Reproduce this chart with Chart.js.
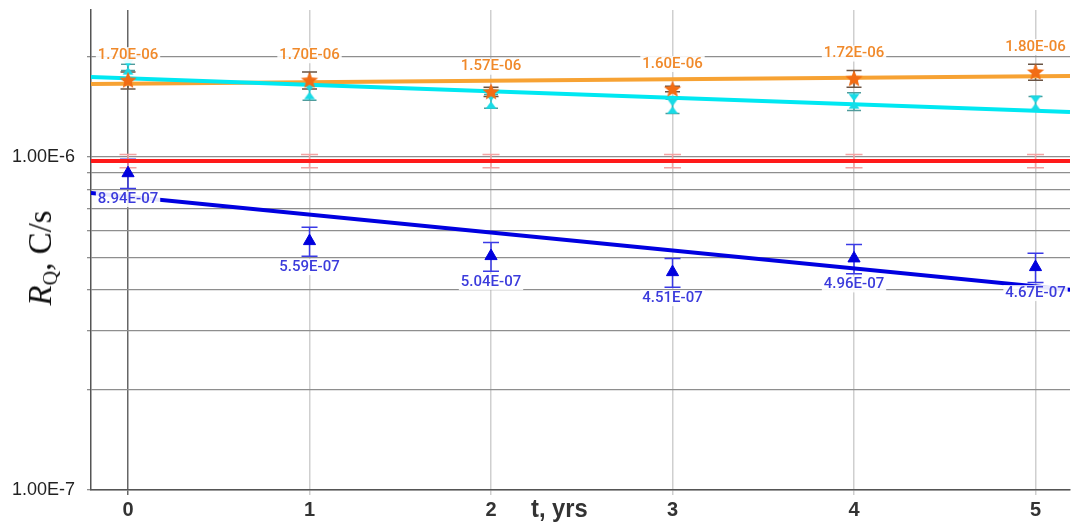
<!DOCTYPE html>
<html>
<head>
<meta charset="utf-8">
<script src="https://cdn.jsdelivr.net/npm/chart.js@4.4.0/dist/chart.umd.min.js"></script>
<style>
  html, body { margin: 0; padding: 0; background: #fff; overflow: hidden; }
  #wrap { position: relative; width: 1073px; height: 523px; overflow: hidden; }
  /* a bit wider than the page: Chart.js keeps ~7px spare on the right */
  #box { position: relative; width: 1080px; height: 523px; }
  #rqChart { display: block; }
  #ytitle {
    position: absolute; left: 42px; top: 258px;
    transform: translate(-50%, -50%) rotate(-90deg);
    font-family: 'Liberation Serif', 'Times New Roman', serif;
    font-size: 33px; white-space: nowrap; color: #111;
  }
  #ytitle sub { font-size: 20px; vertical-align: -6px; }
  #xtitle {
    position: absolute; left: 531px; top: 494px;
    font: bold 25px 'Liberation Sans Narrow', 'Arial Narrow', 'Liberation Sans', sans-serif;
    color: #333; white-space: nowrap;
    transform: scaleX(0.95); transform-origin: left top;
  }
</style>
</head>
<body>
<div id="wrap">
  <div id="box"><canvas id="rqChart"></canvas></div>
  <div id="ytitle"><i>R</i><sub>Q</sub>, C/s</div>
  <div id="xtitle">t, yrs</div>
</div>
<script>
// ---- data ----
const years = [0, 1, 2, 3, 4, 5];

const orangeValues = [1.70e-6, 1.70e-6, 1.57e-6, 1.60e-6, 1.72e-6, 1.80e-6];
const orangeErrors = [0.10e-6, 0.10e-6, 0.05e-6, 0.03e-6, 0.10e-6, 0.10e-6];

const cyanValues = [1.86e-6, 1.57e-6, 1.47e-6, 1.42e-6, 1.47e-6, 1.45e-6];
const cyanErrors = [0.04e-6, 0.09e-6, 0.07e-6, 0.07e-6, 0.09e-6, 0.07e-6];

const redValues = [9.73e-7, 9.73e-7, 9.73e-7, 9.73e-7, 9.73e-7, 9.73e-7];
const redErrors = [4.5e-8, 4.5e-8, 4.5e-8, 4.5e-8, 4.5e-8, 4.5e-8];

const blueValues = [8.94e-7, 5.59e-7, 5.04e-7, 4.51e-7, 4.96e-7, 4.67e-7];
const blueErrors = [9.0e-8, 5.6e-8, 5.0e-8, 4.5e-8, 5.0e-8, 4.7e-8];

// trend lines, end points at the plot edges
const trendX = [-0.204, 5.19];
const orangeTrend = [1.656e-6, 1.75e-6];
const cyanTrend = [1.74e-6, 1.365e-6];
const redTrend = [9.73e-7, 9.73e-7];
const blueTrend = [7.8e-7, 3.99e-7];

const yGridValues = [1e-7, 2e-7, 3e-7, 4e-7, 5e-7, 6e-7, 7e-7, 8e-7, 9e-7, 1e-6, 2e-6];
const yLabelValues = [1e-7, 1e-6];

function pts(xs, ys) { return xs.map((x, i) => ({ x: x, y: ys[i] })); }

function sciLabel(v) {
  let exp = Math.floor(Math.log10(v) + 1e-9);
  let m = v / Math.pow(10, exp);
  let e = Math.abs(exp);
  return m.toFixed(2) + 'E' + (exp < 0 ? '-' : '+') + (e < 10 ? '0' + e : e);
}
function tickLabel(v) {
  let exp = Math.round(Math.log10(v));
  return (v / Math.pow(10, exp)).toFixed(2) + 'E' + exp;
}

// marker pictures
function makeStar(color) {
  const c = document.createElement('canvas');
  c.width = 20; c.height = 20;
  const g = c.getContext('2d');
  g.fillStyle = color;
  g.beginPath();
  for (let i = 0; i < 10; i++) {
    const r = i % 2 === 0 ? 9 : 4;
    const a = -Math.PI / 2 + i * Math.PI / 5;
    const px = 10 + r * Math.cos(a), py = 10.5 + r * Math.sin(a);
    if (i === 0) g.moveTo(px, py); else g.lineTo(px, py);
  }
  g.closePath();
  g.fill();
  return c;
}
function makeHourglass(color) {
  const c = document.createElement('canvas');
  c.width = 12; c.height = 16;
  const g = c.getContext('2d');
  g.fillStyle = color;
  g.beginPath();
  g.moveTo(0.5, 0.5); g.lineTo(11.5, 0.5); g.lineTo(6, 8); g.closePath();
  g.moveTo(6, 8); g.lineTo(11.5, 15.5); g.lineTo(0.5, 15.5); g.closePath();
  g.fill();
  return c;
}

const errorBars = {
  id: 'errorBars',
  beforeDatasetsDraw(chart) {
    const ctx = chart.ctx;
    const yScale = chart.scales.y;
    chart.data.datasets.forEach((ds, i) => {
      if (!ds.errors) return;
      const meta = chart.getDatasetMeta(i);
      ctx.save();
      ctx.strokeStyle = ds.errorColor;
      ctx.lineWidth = 1.5;
      meta.data.forEach((pt, j) => {
        const v = ds.data[j].y, e = ds.errors[j];
        const top = yScale.getPixelForValue(v + e);
        const bot = yScale.getPixelForValue(v - e);
        const w = ds.capWidth / 2;
        ctx.beginPath();
        ctx.moveTo(pt.x, top); ctx.lineTo(pt.x, bot);
        ctx.moveTo(pt.x - w, top); ctx.lineTo(pt.x + w, top);
        ctx.moveTo(pt.x - w, bot); ctx.lineTo(pt.x + w, bot);
        ctx.stroke();
      });
      ctx.restore();
    });
  }
};

const valueLabels = {
  id: 'valueLabels',
  afterDatasetsDraw(chart) {
    const ctx = chart.ctx;
    chart.data.datasets.forEach((ds, i) => {
      if (!ds.labelOffset) return;
      const meta = chart.getDatasetMeta(i);
      ctx.save();
      ctx.font = '500 15px Roboto, "Liberation Sans", sans-serif';
      ctx.textAlign = 'center';
      ctx.textBaseline = 'middle';
      meta.data.forEach((pt, j) => {
        const txt = sciLabel(ds.data[j].y);
        const w = ctx.measureText(txt).width;
        const cy = pt.y + ds.labelOffset;
        ctx.fillStyle = 'rgba(255,255,255,0.9)';
        ctx.fillRect(pt.x - w / 2 - 2, cy - 8, w + 4, 16);
        ctx.fillStyle = ds.labelColor;
        ctx.fillText(txt, pt.x, cy);
      });
      ctx.restore();
    });
  }
};

const ctxRq = document.getElementById('rqChart').getContext('2d');
new Chart(ctxRq, {
  type: 'scatter',
  data: {
    datasets: [
      {
        label: 'blue', data: pts(years, blueValues),
        pointStyle: 'triangle', pointRadius: 7, backgroundColor: '#0000dd', borderColor: '#0000dd', borderWidth: 1,
        errors: blueErrors, errorColor: '#3a3ae6', capWidth: 16,
        labelOffset: 26, labelColor: '#3b3bdc'
      },
      {
        label: 'orange', data: pts(years, orangeValues),
        pointStyle: makeStar('#f26c14'), pointRadius: 9,
        errors: orangeErrors, errorColor: '#6a5444', capWidth: 15,
        labelOffset: -25, labelColor: '#f0892a'
      },
      {
        label: 'cyan', data: pts(years, cyanValues),
        pointStyle: makeHourglass('#19dbe6'), pointRadius: 8,
        errors: cyanErrors, errorColor: '#4f9c9c', capWidth: 14
      },
      {
        label: 'red', data: pts(years, redValues),
        pointRadius: 0,
        errors: redErrors, errorColor: '#f3a3a3', capWidth: 17
      },
      {
        label: 'blue trend', data: pts(trendX, blueTrend), showLine: true,
        borderColor: '#0000e0', borderWidth: 4, pointStyle: 'rect', pointRadius: 2,
        backgroundColor: '#0000e0', pointBorderWidth: 0
      },
      {
        label: 'red trend', data: pts(trendX, redTrend), showLine: true,
        borderColor: '#ff1a1a', borderWidth: 4, pointRadius: 0
      },
      {
        label: 'cyan trend', data: pts(trendX, cyanTrend), showLine: true,
        borderColor: '#00e8f2', borderWidth: 4, pointRadius: 0
      },
      {
        label: 'orange trend', data: pts(trendX, orangeTrend), showLine: true,
        borderColor: '#f7a233', borderWidth: 4, pointRadius: 0
      }
    ]
  },
  options: {
    responsive: true,
    maintainAspectRatio: false,
    animation: false,
    layout: { padding: { left: 0, top: 10, right: 3, bottom: 0 } },
    plugins: { legend: { display: false }, tooltip: { enabled: false } },
    scales: {
      x: {
        type: 'linear', min: trendX[0], max: trendX[1],
        afterBuildTicks: s => { s.ticks = years.map(v => ({ value: v })); },
        afterFit: s => { s.height = 33; s.paddingLeft = 0; s.paddingRight = 0; },
        grid: {
          color: c => (c.tick && c.tick.value === 0) ? '#666' : '#cfcfcf',
          lineWidth: 1.5, tickLength: 5
        },
        border: { color: '#555', width: 1.5 },
        ticks: {
          color: '#333', padding: 3,
          font: { family: "'Liberation Sans Narrow', 'Arial Narrow', 'Liberation Sans', sans-serif", size: 20, weight: 'bold' }
        }
      },
      y: {
        type: 'logarithmic', min: 1e-7, max: 2.763e-6,
        afterBuildTicks: s => { s.ticks = yGridValues.map(v => ({ value: v })); },
        afterFit: s => { s.width = 91; s.paddingTop = 0; s.paddingBottom = 0; },
        grid: { color: '#8e8e8e', lineWidth: 1.3, tickLength: 4 },
        border: { color: '#555', width: 1.5 },
        ticks: {
          autoSkip: false, color: '#222', padding: 12,
          font: { family: "'Liberation Sans', Arial, sans-serif", size: 18 },
          callback: v => yLabelValues.includes(v) ? tickLabel(v) : ''
        }
      }
    }
  },
  plugins: [errorBars, valueLabels]
});
</script>
</body>
</html>
